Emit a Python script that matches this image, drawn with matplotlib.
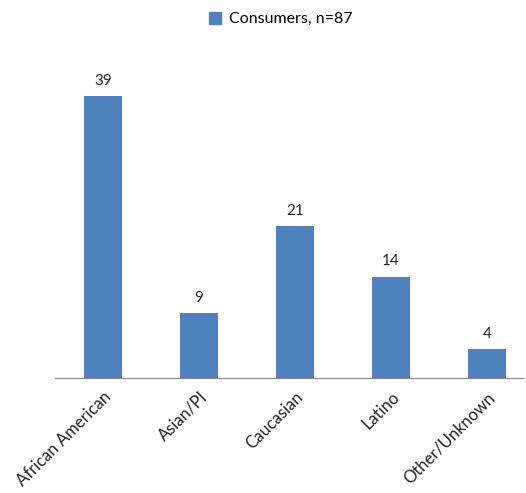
import matplotlib
matplotlib.use("Agg")
import matplotlib.pyplot as plt
from matplotlib.patches import Patch

categories = ["African American", "Asian/PI", "Caucasian", "Latino", "Other/Unknown"]
values = [39, 9, 21, 14, 4]
series_name = "Consumers, n=87"

plt.rcParams['font.family'] = ['Lato', 'DejaVu Sans']

W, H = 526, 493
fig = plt.figure(figsize=(W/100, H/100), dpi=100)
left, right = 55, 524
bottom, top = 378, 40
ax = fig.add_axes([left/W, 1 - bottom/H, (right-left)/W, (bottom-top)/H])

color = "#4F81BD"
x = list(range(len(categories)))
bars = ax.bar(x, values, width=0.4, color=color)
ax.set_xlim(-0.5, -0.5 + (right-left)/96)
ax.set_ylim(0, (bottom-top)/7.23)

for xi, v in zip(x, values):
    ax.annotate(str(v), (xi, v), xytext=(0, 6), textcoords="offset points",
                ha="center", va="bottom", fontsize=11, color="#222222")

for s in ["top", "right", "left"]:
    ax.spines[s].set_visible(False)
ax.spines["bottom"].set_color("#868686")
ax.set_yticks([])
ax.set_xticks(x)
ax.set_xticklabels(categories, rotation=45, ha="right", rotation_mode="anchor",
                   fontsize=12, color="#222222")
ax.tick_params(axis="x", length=0, pad=8)

fig.legend(handles=[Patch(color=color, label=series_name)], loc="upper center",
           bbox_to_anchor=(0.534, 1.005), frameon=False, fontsize=11.5,
           handlelength=0.75, handleheight=0.75, handletextpad=0.5)

fig.savefig("out.png", dpi=100)
